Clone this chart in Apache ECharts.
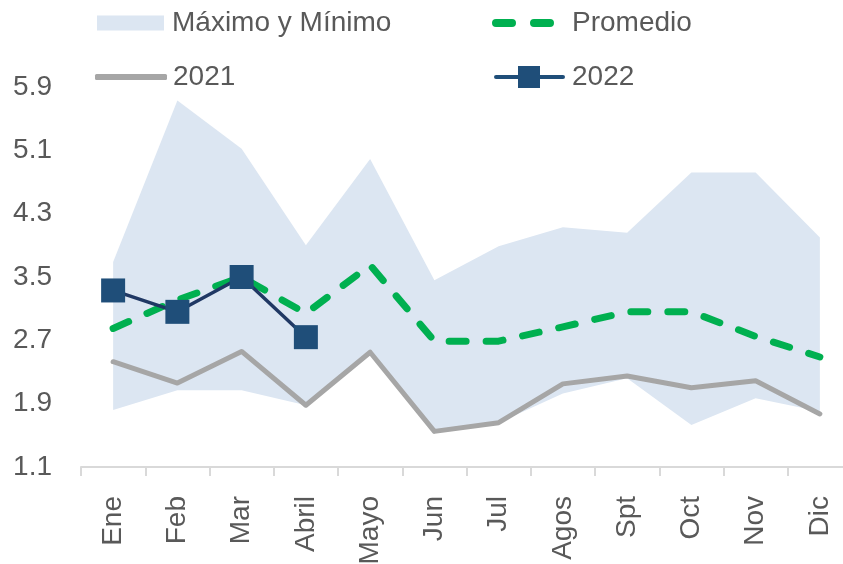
<!DOCTYPE html>
<html>
<head>
<meta charset="utf-8">
<script src="https://cdn.jsdelivr.net/npm/echarts@6/dist/echarts.min.js"></script>
<style>
  html, body { margin: 0; padding: 0; background: #ffffff; }
  #chart { width: 843px; height: 564px; }
</style>
</head>
<body>
<div id="chart"></div>
<script>
const MONTHS = ["Ene", "Feb", "Mar", "Abril", "Mayo", "Jun", "Jul", "Agos", "Spt", "Oct", "Nov", "Dic"];

const MAX_VALUES = [3.69, 5.73, 5.12, 3.90, 4.99, 3.46, 3.89, 4.13, 4.06, 4.82, 4.82, 4.00];
const MIN_VALUES = [1.82, 2.07, 2.07, 1.88, 2.55, 1.55, 1.66, 2.03, 2.22, 1.63, 1.97, 1.80];
const AVG_VALUES = [2.85, 3.21, 3.50, 3.04, 3.65, 2.69, 2.69, 2.87, 3.06, 3.06, 2.75, 2.49];
const Y2021 = [2.43, 2.16, 2.56, 1.88, 2.55, 1.55, 1.66, 2.15, 2.25, 2.10, 2.19, 1.77];
const Y2022 = [3.33, 3.06, 3.50, 2.74, null, null, null, null, null, null, null, null];

const BAND = "#DCE6F2";
const GREEN = "#00B050";
const GREY = "#A6A6A6";
const NAVY = "#203864";
const NAVY_MARK = "#1F4E79";
const TEXT = "#595959";
const FONT = "Liberation Sans, Arial, sans-serif";

// legend icons drawn as plain shapes, like the spreadsheet legend
const ICON_DASHES = "path://M4,0 h16 a4,4 0 0 1 0,8 h-16 a4,4 0 0 1 0,-8 z M42,0 h16 a4,4 0 0 1 0,8 h-16 a4,4 0 0 1 0,-8 z";
const ICON_SQUARE_LINE = "path://M2,9 h67 a2,2 0 0 1 0,4 h-67 a2,2 0 0 1 0,-4 z M24,0 h22 v22 h-22 z";

const chart = echarts.init(document.getElementById("chart"));

function legendAt(left, top, item, w, h, gap) {
  return {
    left: left,
    top: top,
    padding: 0,
    orient: "horizontal",
    selectedMode: false,
    itemWidth: w,
    itemHeight: h,
    symbolKeepAspect: false,
    textStyle: { fontSize: 28, color: TEXT, fontFamily: FONT, padding: [0, 0, 0, gap] },
    data: [item]
  };
}

const option = {
  backgroundColor: "#ffffff",
  animation: false,
  legend: [
    legendAt(97, 9, { name: "Máximo y Mínimo", icon: "rect", itemStyle: { color: BAND } }, 67, 15, 3),
    legendAt(492, 9, { name: "Promedio", icon: ICON_DASHES, itemStyle: { color: GREEN } }, 62, 8, 13),
    legendAt(95, 63, { name: "2021", icon: "roundRect", itemStyle: { color: GREY } }, 72, 6, 1),
    legendAt(494, 63, { name: "2022", icon: ICON_SQUARE_LINE, itemStyle: { color: NAVY_MARK } }, 71, 22, 2)
  ],
  grid: { left: 81, top: 87, width: 771, height: 380, containLabel: false, outerBoundsMode: "none" },
  xAxis: {
    type: "category",
    data: MONTHS,
    boundaryGap: true,
    axisLine: { show: true, lineStyle: { color: "#D9D9D9", width: 2 } },
    axisTick: { show: true, length: 9, lineStyle: { color: "#D9D9D9", width: 2 } },
    axisLabel: { rotate: 90, margin: 29, fontSize: 28, color: TEXT, fontFamily: FONT, interval: 0 }
  },
  yAxis: {
    type: "value",
    min: 1.1,
    max: 5.9,
    interval: 0.8,
    axisLine: { show: false },
    axisTick: { show: false },
    splitLine: { show: false },
    axisLabel: {
      margin: 29,
      fontSize: 28,
      color: TEXT,
      fontFamily: FONT,
      formatter: v => v.toFixed(1)
    }
  },
  series: [
    {
      name: "base",
      type: "line",
      stack: "band",
      data: MIN_VALUES,
      symbol: "none",
      lineStyle: { width: 0, opacity: 0 },
      silent: true,
      z: 1
    },
    {
      name: "Máximo y Mínimo",
      type: "line",
      stack: "band",
      data: MAX_VALUES.map((v, i) => +(v - MIN_VALUES[i]).toFixed(2)),
      symbol: "none",
      itemStyle: { color: BAND },
      lineStyle: { width: 0, opacity: 0 },
      areaStyle: { color: BAND, opacity: 1 },
      z: 1
    },
    {
      name: "2021",
      type: "line",
      data: Y2021,
      symbol: "none",
      itemStyle: { color: GREY },
      lineStyle: { color: GREY, width: 5, cap: "round", join: "round" },
      z: 3
    },
    {
      name: "Promedio",
      type: "line",
      data: AVG_VALUES,
      symbol: "none",
      itemStyle: { color: GREEN },
      lineStyle: { color: GREEN, width: 7, type: [17, 20], cap: "round", join: "round" },
      z: 4
    },
    {
      name: "2022",
      type: "line",
      data: Y2022,
      symbol: "rect",
      symbolSize: 24,
      showAllSymbol: true,
      itemStyle: { color: NAVY_MARK, borderColor: NAVY_MARK, borderWidth: 0 },
      lineStyle: { color: NAVY, width: 3.5 },
      z: 5
    }
  ]
};

chart.setOption(option);
window.addEventListener("resize", () => chart.resize());
</script>
</body>
</html>
